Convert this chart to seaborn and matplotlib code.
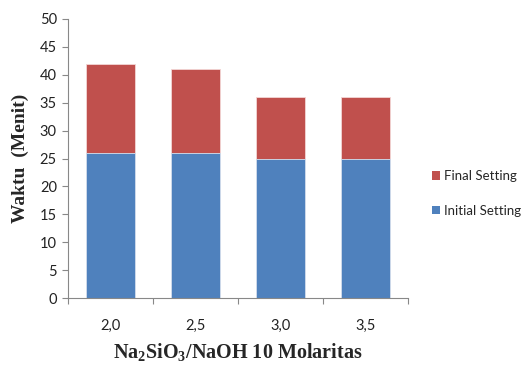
import matplotlib
matplotlib.use("Agg")
import matplotlib.pyplot as plt
import seaborn as sns
import pandas as pd
from matplotlib.patches import Patch

categories = ["2,0", "2,5", "3,0", "3,5"]
initial_setting = [26, 26, 25, 25]
final_setting = [16, 15, 11, 11]
yticks = [0, 5, 10, 15, 20, 25, 30, 35, 40, 45, 50]

sns.set_theme(style="white")
plt.rcParams["font.family"] = ["Lato", "DejaVu Sans"]
plt.rcParams["mathtext.default"] = "regular"

blue = "#4F81BD"
red = "#C0504D"

df = pd.DataFrame({
    "cat": categories,
    "initial": initial_setting,
    "total": [a + b for a, b in zip(initial_setting, final_setting)],
})

fig = plt.figure(figsize=(5.27, 3.65), dpi=100)
ax = fig.add_axes([68 / 527, (365 - 298) / 365, 340 / 527, 279 / 365])

sns.barplot(data=df, x="cat", y="total", color=red, saturation=1, width=0.565,
            ax=ax, edgecolor="#f3d6d5", linewidth=0.6)
sns.barplot(data=df, x="cat", y="initial", color=blue, saturation=1, width=0.565,
            ax=ax, edgecolor="#d5e2f1", linewidth=0.6)

ax.set_xlim(-0.5, 3.5)
ax.set_ylim(0, 50)
ax.set_yticks(yticks)
ax.set_yticklabels([str(v) for v in yticks], fontsize=10.5, color="#222222")
ax.set_xticks(range(len(categories)))
ax.set_xticklabels(categories, fontsize=10.5, color="#222222")
ax.set_xticks([-0.5, 0.5, 1.5, 2.5, 3.5], minor=True)
ax.tick_params(axis="x", which="major", length=0, pad=15)
ax.tick_params(axis="x", which="minor", length=4, color="#888888", width=0.8, direction="out", bottom=True)
ax.tick_params(axis="y", which="major", length=4, color="#888888", width=0.8, direction="out", left=True, pad=4)

for s in ["top", "right"]:
    ax.spines[s].set_visible(False)
for s in ["left", "bottom"]:
    ax.spines[s].set_color("#888888")
    ax.spines[s].set_linewidth(0.8)

ax.set_xlabel("Na$_2$SiO$_3$/NaOH 10 Molaritas", fontsize=14.5, fontweight="bold",
              family="Liberation Serif", labelpad=6)
ax.set_ylabel("Waktu  (Menit)", fontsize=14, fontweight="bold",
              family="Liberation Serif", labelpad=8)

handles = [Patch(facecolor=red, edgecolor="none", label="Final Setting"),
           Patch(facecolor=blue, edgecolor="none", label="Initial Setting")]
fig.legend(handles=handles, loc="center left", bbox_to_anchor=(432 / 527, (365 - 193.5) / 365),
           frameon=False, fontsize=9.5, handlelength=0.6, handleheight=0.6,
           handletextpad=0.3, labelspacing=1.7, borderpad=0, borderaxespad=0)

fig.savefig("out.png", dpi=100)
